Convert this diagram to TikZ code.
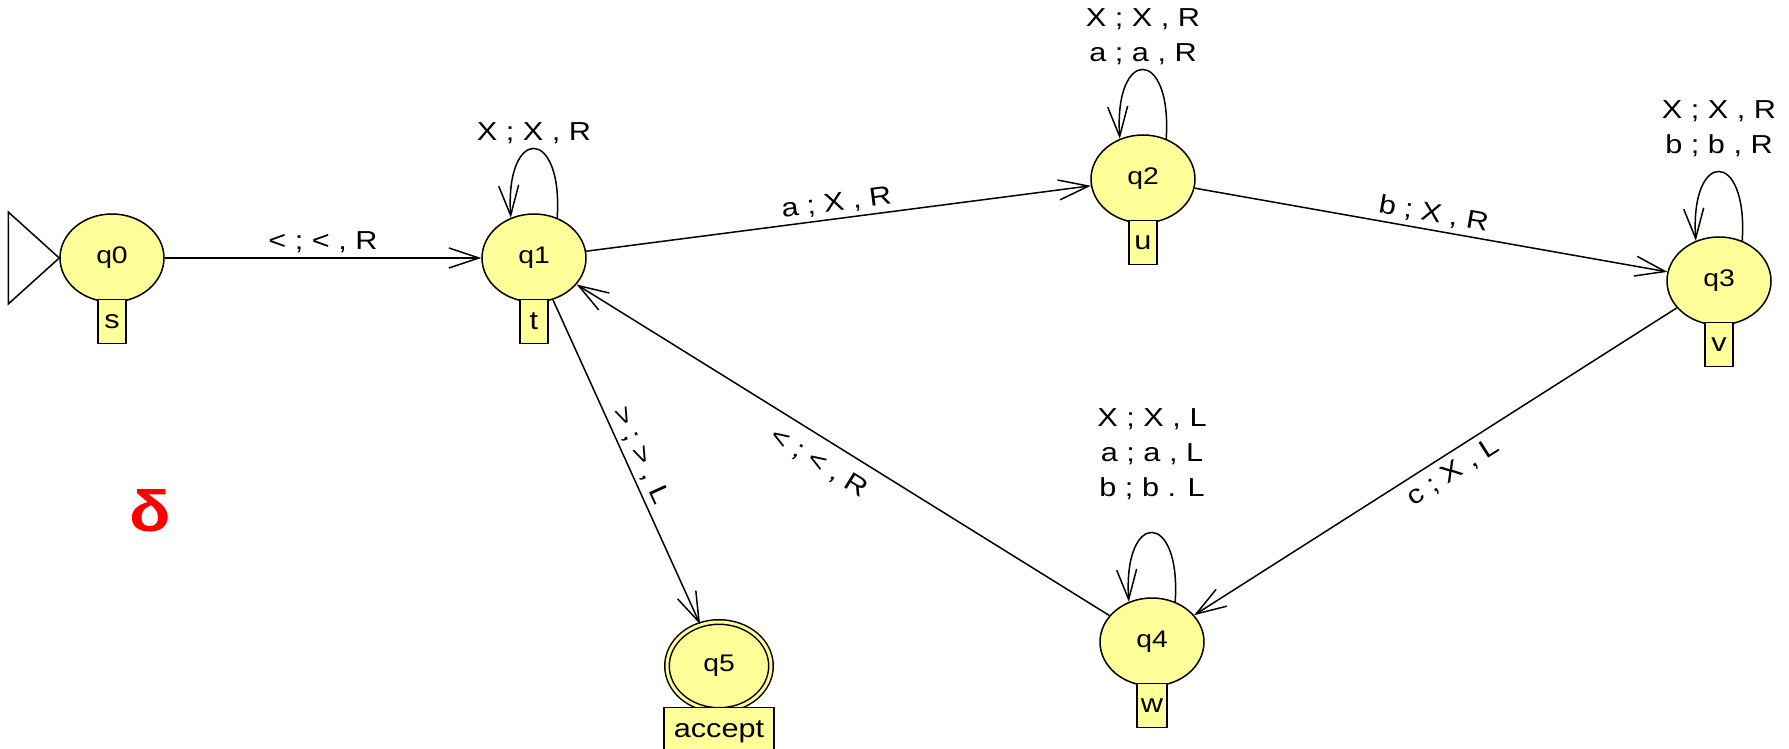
\documentclass[tikz,border=0pt]{standalone}
\usepackage{fontspec}
\setmainfont{Liberation Sans}[FakeStretch=1.18]
\usetikzlibrary{shapes.geometric,arrows.meta,positioning}
\definecolor{stateyellow}{RGB}{255,255,153}

\tikzset{every picture/.style={line width=0.75pt}}
\tikzset{
  state/.style={ellipse, draw, fill=stateyellow, minimum width=52pt, minimum height=44pt, inner sep=0pt, font=\fontsize{12}{14}\selectfont},
  final/.style={state, double=stateyellow, double distance=1.5pt},
  tag/.style={draw, fill=stateyellow, minimum width=14pt, minimum height=22pt, inner sep=2pt, font=\fontsize{13}{15}\selectfont},
  lbl/.style={font=\fontsize{13}{17.5}\selectfont, align=center, inner sep=2pt},
  arr/.style={-{Straight Barb[length=15pt,width=10pt]}},
}

\begin{document}
\begin{tikzpicture}[x=0.5pt,y=0.5pt,yscale=-1,xscale=1]
\useasboundingbox (0,0) rectangle (1789,749);

% States
\node[state] (q0) at (112,258) {q0};
\node[state] (q1) at (534,258) {q1};
\node[state] (q2) at (1143,179) {q2};
\node[state] (q3) at (1719,281) {q3};
\node[state] (q4) at (1152,642) {q4};
\node[final] (q5) at (719,666) {q5};

% Tags
\node[tag, below=-2pt of q0] (s0) {s};
\node[tag, below=-2pt of q1] (t1) {t};
\node[tag, below=-2pt of q2] (u2) {u};
\node[tag, below=-2pt of q3] (v3) {v};
\node[tag, below=-2pt of q4] (w4) {w};
\node[tag, below=-2pt of q5, minimum width=55pt, minimum height=24pt] (acc5) {accept};

% Start triangle
\draw (q0.west) -- ++(-51,-46) -- ++(0,92) -- cycle;

% Transitions
\draw[arr] (q0) -- node[lbl, above] {< ; < , R} (q1);
\draw[arr] (q1) -- node[lbl, above, rotate=7.4] {a ; X , R} (q2);
\draw[arr] (q2) -- node[lbl, above, rotate=-10] {b ; X , R} (q3);
\draw[arr] (q3) -- node[lbl, below=2pt, rotate=32.5, pos=0.48] {c ; X , L} (q4);
\draw[arr] (q4) -- node[lbl, below=5pt, rotate=-31.9, pos=0.53] {< ; < , R} (q1);
\draw[arr] (q1) -- node[lbl, above, rotate=-65.6] {> ; > , L} (q5);

% Loops
\draw[arr] (q1.60) .. controls +(6,-92) and +(-6,-92) .. node[lbl, above] {X ; X , R} (q1.120);
\draw[arr] (q2.60) .. controls +(6,-92) and +(-6,-92) .. node[lbl, above] {X ; X , R\\a ; a , R} (q2.120);
\draw[arr] (q3.60) .. controls +(6,-92) and +(-6,-92) .. node[lbl, above=5pt] {X ; X , R\\b ; b , R} (q3.120);
\draw[arr] (q4.60) .. controls +(6,-92) and +(-6,-92) .. node[lbl, above=14pt] {X ; X , L\\a ; a , L\\b ; b . L} (q4.120);

% Delta
\node[text=red, font=\fontsize{29}{30}\selectfont\bfseries] (delta) at (150,511) {δ};

\end{tikzpicture}
\end{document}
